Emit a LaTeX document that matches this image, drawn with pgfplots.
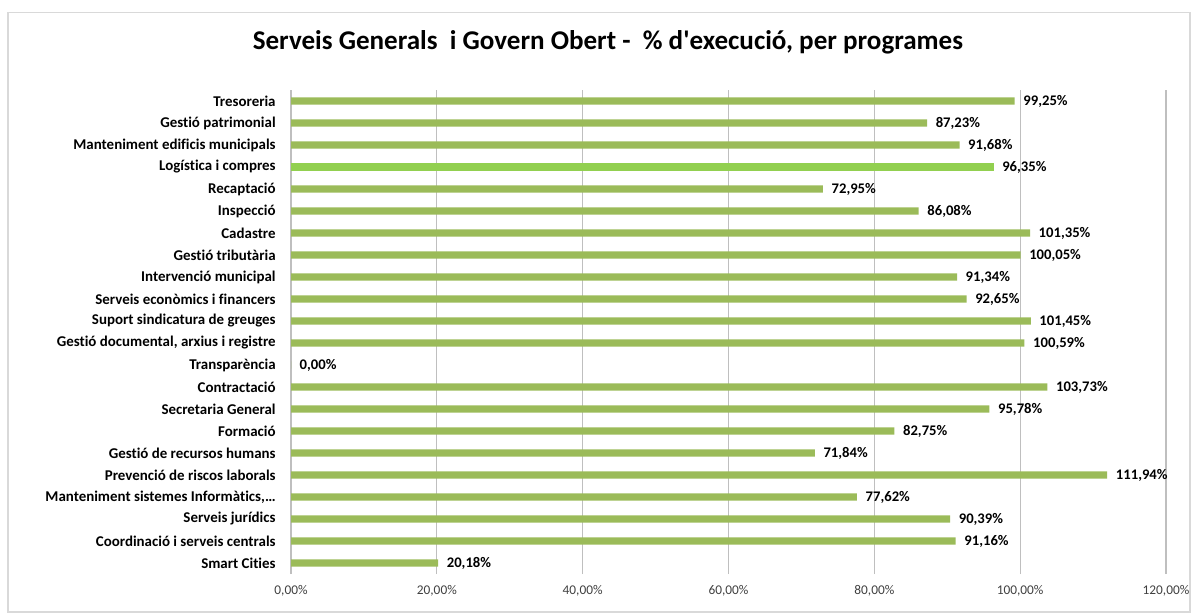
\documentclass[border=0pt]{standalone}
\usepackage{fontspec}
\setmainfont{Carlito}[Ligatures={NoCommon}]
\usepackage{pgfplots}
\pgfplotsset{compat=1.18}

\definecolor{barg}{HTML}{9BBB59}
\definecolor{barl}{HTML}{92D050}
\definecolor{gridc}{HTML}{BFBFBF}
\definecolor{framec}{HTML}{D9D9D9}
\definecolor{tickc}{HTML}{404040}

\begin{document}
\begin{tikzpicture}
\path[use as bounding box] (0pt,0pt) rectangle (898.5pt,461.25pt);
\draw[framec, line width=0.8pt] (6pt,2.25pt) rectangle (892.5pt,452pt);
\node[font=\fontsize{20.3}{22}\selectfont\bfseries] at (456pt,429.75pt)
  {Serveis Generals\ \ i Govern Obert -\ \ \% d\textquotesingle execució, per programes};

\begin{axis}[
    at={(218.25pt,30.75pt)}, anchor=south west,
    scale only axis,
    width=656.25pt, height=363pt,
    xbar, bar width=5.6pt,
    xmin=0, xmax=120,
    ymin=-0.5, ymax=21.5,
    xtick={0,20,40,60,80,100,120},
    xticklabels={0{,}00\%,20{,}00\%,40{,}00\%,60{,}00\%,80{,}00\%,100{,}00\%,120{,}00\%},
    ytick={0,1,2,3,4,5,6,7,8,9,10,11,12,13,14,15,16,17,18,19,20,21},
    yticklabels={
        Smart Cities,
        Coordinació i serveis centrals,
        Serveis jurídics,
        {Manteniment sistemes Informàtics,\ldots},
        Prevenció de riscos laborals,
        Gestió de recursos humans,
        Formació,
        Secretaria General,
        Contractació,
        Transparència,
        {Gestió documental, arxius i registre},
        Suport sindicatura de greuges,
        Serveis econòmics i financers,
        Intervenció municipal,
        Gestió tributària,
        Cadastre,
        Inspecció,
        Recaptació,
        Logística i compres,
        Manteniment edificis municipals,
        Gestió patrimonial,
        Tresoreria},
    axis line style={draw=none},
    major tick length=0pt,
    xmajorgrids,
    grid style={gridc, line width=0.8pt},
    xticklabel style={font=\fontsize{10}{12}\selectfont, text=tickc, yshift=-5pt},
    yticklabel style={font=\fontsize{11.2}{13}\selectfont\bfseries, xshift=-8pt},
    point meta=x,
    nodes near coords={\pgfmathprintnumber[fixed,fixed zerofill,precision=2,use comma,assume math mode=true]{\pgfplotspointmeta}\%},
    nodes near coords style={font=\fontsize{11}{13}\selectfont\bfseries, anchor=west, xshift=3pt},
]
\addplot[fill=barg, draw=none, bar shift=0pt] coordinates {
    (20.18,0)
    (91.16,1)
    (90.39,2)
    (77.62,3)
    (111.94,4)
    (71.84,5)
    (82.75,6)
    (95.78,7)
    (103.73,8)
    (0,9)
    (100.59,10)
    (101.45,11)
    (92.65,12)
    (91.34,13)
    (100.05,14)
    (101.35,15)
    (86.08,16)
    (72.95,17)
    (91.68,19)
    (87.23,20)
    (99.25,21)
};
\addplot[fill=barl, draw=none, bar shift=0pt] coordinates {
    (96.35,18)
};
\end{axis}
\end{tikzpicture}
\end{document}
